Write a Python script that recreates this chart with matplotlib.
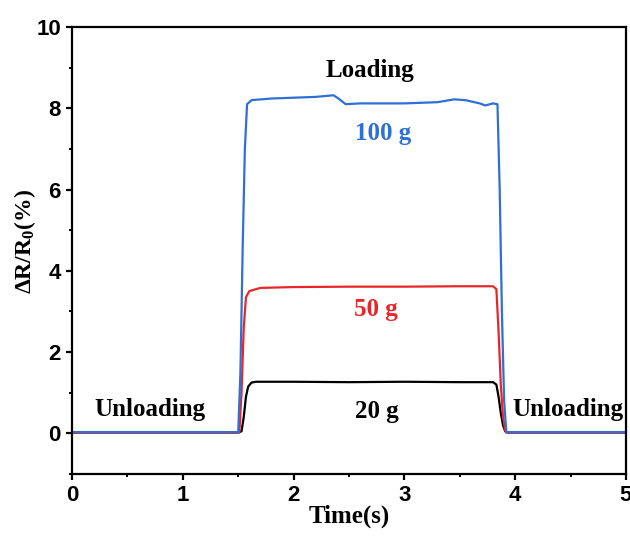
import matplotlib
matplotlib.use("Agg")
import matplotlib.pyplot as plt
from matplotlib.ticker import MultipleLocator

# Data
t_20 = [0.0, 1.0, 1.50, 1.53, 1.55, 1.57, 1.59, 1.62, 1.66, 2.0, 2.5, 3.0, 3.5, 3.80, 3.83, 3.85, 3.87, 3.89, 3.91, 3.93, 4.2, 5.0]
r_20 = [0.02, 0.02, 0.02, 0.05, 0.4, 0.9, 1.15, 1.25, 1.27, 1.27, 1.26, 1.27, 1.26, 1.26, 1.2, 0.9, 0.5, 0.2, 0.05, 0.02, 0.02, 0.02]

t_50 = [0.0, 1.0, 1.51, 1.53, 1.55, 1.57, 1.60, 1.70, 2.0, 2.5, 3.0, 3.5, 3.80, 3.83, 3.85, 3.87, 3.89, 3.91, 3.92, 4.2, 5.0]
r_50 = [0.02, 0.02, 0.02, 1.0, 2.6, 3.35, 3.50, 3.58, 3.60, 3.61, 3.61, 3.62, 3.62, 3.55, 2.5, 1.2, 0.4, 0.08, 0.02, 0.02, 0.02]

t_100 = [0.0, 1.0, 1.50, 1.52, 1.54, 1.56, 1.58, 1.62, 1.8, 2.0, 2.2, 2.36, 2.40, 2.47, 2.6, 3.0, 3.3, 3.45, 3.55, 3.68, 3.73, 3.80, 3.84, 3.86, 3.88, 3.90, 3.92, 4.2, 5.0]
r_100 = [0.03, 0.03, 0.03, 1.5, 4.5, 7.0, 8.10, 8.20, 8.24, 8.26, 8.28, 8.32, 8.25, 8.10, 8.12, 8.12, 8.15, 8.22, 8.20, 8.12, 8.07, 8.12, 8.10, 6.0, 3.0, 0.8, 0.03, 0.03, 0.03]

plt.rcParams['font.family'] = ['Liberation Sans', 'DejaVu Sans']
plt.rcParams['mathtext.fontset'] = 'custom'
plt.rcParams['mathtext.rm'] = 'Liberation Serif:bold'
plt.rcParams['mathtext.it'] = 'Liberation Serif:bold'
plt.rcParams['mathtext.bf'] = 'Liberation Serif:bold'

fig = plt.figure(figsize=(6.3, 5.4), dpi=100)
ax = fig.add_axes([72/630, 1-474/540, (626-72)/630, (474-27)/540])

ax.plot(t_20, r_20, color='black', lw=1.6)
ax.plot(t_50, r_50, color='#e8262a', lw=1.6)
ax.plot(t_100, r_100, color='#2f6fd6', lw=1.6)

ax.set_xlim(0, 5)
ax.set_ylim(-1, 10)
ax.xaxis.set_major_locator(MultipleLocator(1))
ax.xaxis.set_minor_locator(MultipleLocator(0.5))
ax.yaxis.set_major_locator(MultipleLocator(2))
ax.yaxis.set_minor_locator(MultipleLocator(1))
ax.tick_params(which='major', direction='out', length=4, width=1.6, labelsize=16, pad=4)
ax.tick_params(which='minor', direction='out', length=2.5, width=1.4)
for lab in ax.get_xticklabels() + ax.get_yticklabels():
    lab.set_fontweight('bold')
for s in ax.spines.values():
    s.set_linewidth(1.6)

serif = ['Liberation Serif', 'DejaVu Serif']
ax.set_xlabel('Time(s)', fontsize=18, fontweight='bold', family=serif, labelpad=-1)
ax.set_ylabel('ΔR/R$_0$(%)', fontsize=17, fontweight='bold', family=serif,
              va='center', ha='center')
ax.yaxis.set_label_coords(-0.085, 0.52)

tk = dict(fontsize=18, fontweight='bold', family=serif, ha='center', va='center')
ax.text(2.69, 8.94, 'Loading', color='black', **tk)
ax.text(2.81, 7.38, '100 g', color='#2f6fd6', **tk)
ax.text(2.74, 3.04, '50 g', color='#e8262a', **tk)
ax.text(2.75, 0.54, '20 g', color='black', **tk)
ax.text(0.70, 0.59, 'Unloading', color='black', **tk)
ax.text(4.48, 0.59, 'Unloading', color='black', **tk)

fig.savefig('out.png', dpi=100)
